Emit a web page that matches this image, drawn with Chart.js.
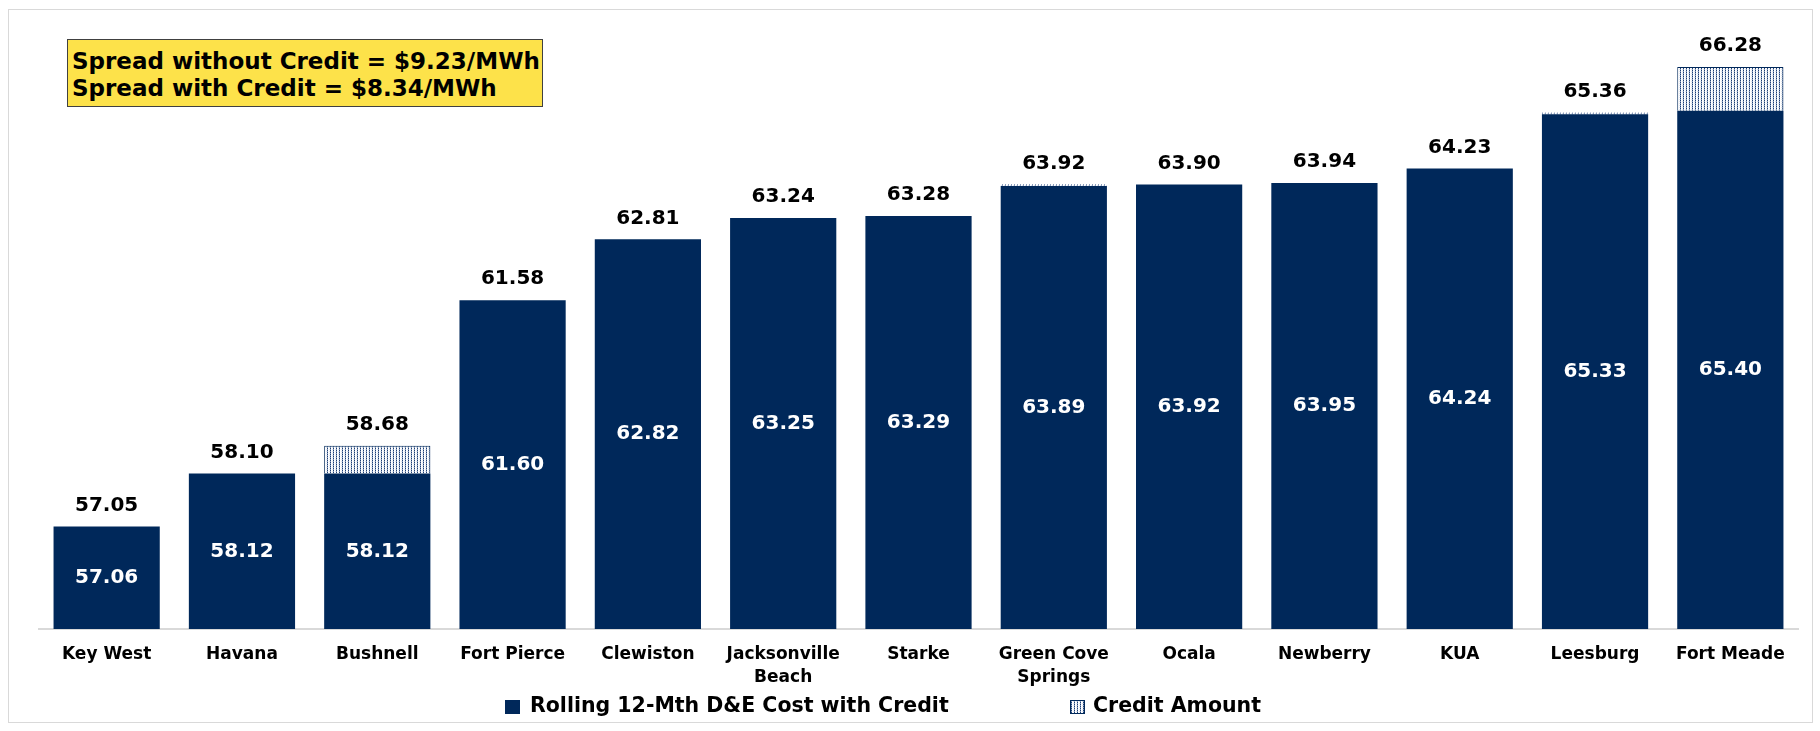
<!DOCTYPE html>
<html>
<head>
<meta charset="utf-8">
<title>Rolling 12-Mth D&amp;E Cost</title>
<script src="https://cdn.jsdelivr.net/npm/chart.js@4.4.1/dist/chart.umd.min.js"></script>
<style>
  html, body { margin: 0; padding: 0; background: #fff; }
  #wrap { position: relative; width: 1820px; height: 731px; }
  #frame {
    position: absolute; left: 8px; top: 9px; width: 1803px; height: 712px;
    border: 1px solid #d9d9d9; pointer-events: none;
  }
  #spread {
    position: absolute; left: 67px; top: 39px; width: 470px; height: 58px;
    padding: 8px 0 0 4px;
    background: #fde24a; border: 1.5px solid #404040;
    font: bold 23px "DejaVu Sans", sans-serif; line-height: 27px; color: #000;
    white-space: nowrap;
  }
</style>
</head>
<body>
<div id="wrap">
  <canvas id="chart" width="1820" height="731"></canvas>
  <div id="frame"></div>
  <div id="spread">Spread without Credit = $9.23/MWh<br>Spread with Credit = $8.34/MWh</div>
</div>
<script>
const cities = ["Key West", "Havana", "Bushnell", "Fort Pierce", "Clewiston",
  ["Jacksonville", "Beach"], "Starke", ["Green Cove", "Springs"], "Ocala",
  "Newberry", "KUA", "Leesburg", "Fort Meade"];

// D&E cost after the credit (inside labels)
const costWithCredit = [57.06, 58.12, 58.12, 61.60, 62.82, 63.25, 63.29, 63.89, 63.92, 63.95, 64.24, 65.33, 65.40];
// cost before the credit (labels above the bars)
const costWithoutCredit = [57.05, 58.10, 58.68, 61.58, 62.81, 63.24, 63.28, 63.92, 63.90, 63.94, 64.23, 65.36, 66.28];

const creditAmount = costWithoutCredit.map((v, i) =>
  Math.max(0, +(v - costWithCredit[i]).toFixed(2)));

const NAVY = "#00285a";
const FONT = "'DejaVu Sans', sans-serif";

// dotted vertical hatch for the credit segment
function creditPattern() {
  const c = document.createElement("canvas");
  c.width = 3; c.height = 2;
  const g = c.getContext("2d");
  g.fillStyle = "#ffffff";
  g.fillRect(0, 0, 3, 2);
  g.fillStyle = "#1d3f74";
  g.fillRect(0, 0, 1, 1);
  g.fillStyle = "#8c9fc0";
  g.fillRect(0, 1, 1, 1);
  g.fillStyle = "#dfe5ef";
  g.fillRect(2, 1, 1, 1);
  return g.createPattern(c, "repeat");
}
const hatch = creditPattern();

// value labels: white inside the base bar, black above the stack
const valueLabels = {
  id: "valueLabels",
  afterDatasetsDraw(chart) {
    const ctx = chart.ctx;
    const base = chart.getDatasetMeta(0).data;
    const top = chart.getDatasetMeta(1).data;
    const yScale = chart.scales.y;
    ctx.save();
    ctx.font = "bold 20px " + FONT;
    ctx.textAlign = "center";
    ctx.textBaseline = "middle";
    base.forEach((bar, i) => {
      const { x, y } = bar.getProps(["x", "y"], true);
      const bottom = yScale.getPixelForValue(yScale.min);
      ctx.fillStyle = "#ffffff";
      ctx.fillText(costWithCredit[i].toFixed(2), x, (y + bottom) / 2);
      const stackTop = Math.min(y, top[i].getProps(["y"], true).y);
      ctx.fillStyle = "#000000";
      ctx.fillText(costWithoutCredit[i].toFixed(2), x, stackTop - 21);
    });
    ctx.restore();
  }
};

// legend row under the axis labels
const legendRow = {
  id: "legendRow",
  afterDraw(chart) {
    const ctx = chart.ctx;
    const y = 707;
    ctx.save();
    ctx.font = "bold 20.5px " + FONT;
    ctx.textBaseline = "middle";
    let x = 505;
    ctx.fillStyle = NAVY;
    ctx.fillRect(x, y - 7, 15, 14);
    ctx.fillStyle = "#000";
    ctx.fillText("Rolling 12-Mth D&E Cost with Credit", x + 25, y);
    x = 1070;
    ctx.fillStyle = hatch;
    ctx.fillRect(x, y - 7, 15, 14);
    ctx.strokeStyle = NAVY;
    ctx.lineWidth = 1;
    ctx.strokeRect(x + 0.5, y - 6.5, 14, 13);
    ctx.fillStyle = "#000";
    ctx.fillText("Credit Amount", x + 23, y);
    ctx.restore();
  }
};

new Chart(document.getElementById("chart"), {
  type: "bar",
  data: {
    labels: cities,
    datasets: [
      {
        label: "Rolling 12-Mth D&E Cost with Credit",
        data: costWithCredit,
        backgroundColor: NAVY,
        borderWidth: 0
      },
      {
        label: "Credit Amount",
        data: creditAmount,
        backgroundColor: hatch,
        borderColor: NAVY,
        // only outline segments tall enough to show the hatch
        borderWidth: (c) => (creditAmount[c.dataIndex] > 0.1 ? 1 : 0)
      }
    ]
  },
  options: {
    responsive: false,
    animation: false,
    categoryPercentage: 0.785,
    barPercentage: 1,
    layout: { padding: { left: 39, right: 22, top: 31, bottom: 28 } },
    plugins: {
      legend: { display: false },
      tooltip: { enabled: false }
    },
    scales: {
      x: {
        stacked: true,
        grid: { display: false, drawTicks: false },
        border: { display: true, color: "#d9d9d9", width: 2 },
        ticks: {
          color: "#000",
          padding: 14,
          maxRotation: 0,
          autoSkip: false,
          font: { family: FONT, size: 17, weight: "bold", lineHeight: 1.35 }
        }
      },
      y: {
        stacked: true,
        display: false,
        min: 55,
        max: 67
      }
    }
  },
  plugins: [valueLabels, legendRow]
});
</script>
</body>
</html>
